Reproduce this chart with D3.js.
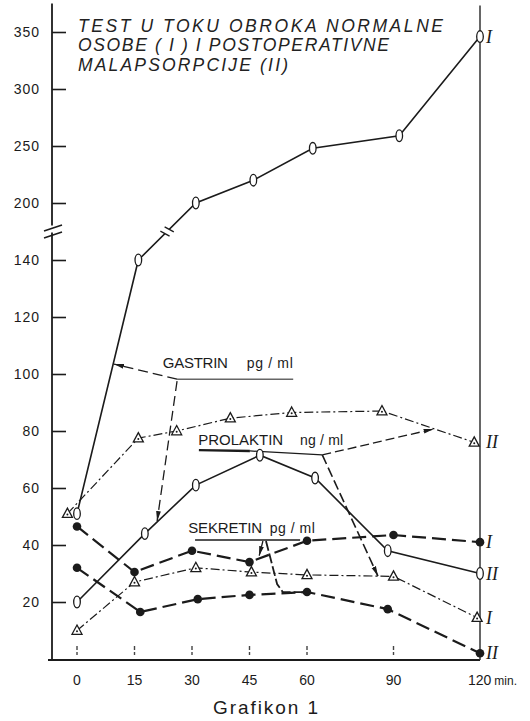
<!DOCTYPE html>
<html>
<head>
<meta charset="utf-8">
<script src="https://cdn.jsdelivr.net/npm/d3@7"></script>
<style>
  body { margin: 0; background: #fff; }
  svg { display: block; }
</style>
</head>
<body>
<svg id="chart" width="530" height="721"></svg>
<script>
// ---- data: sampling times (min) and concentrations ----
const gastrinITimes   = [0, 16, 31, 46, 62, 92, 120];
const gastrinIValues  = [51, 140, 200, 220, 248, 259, 346];

const gastrinIITimes  = [0, 17.7, 31, 47.7, 62.8, 88, 120];
const gastrinIIValues = [20, 44, 61, 71.5, 63.5, 38, 30];

const prolaktinITimes  = [0, 15, 31, 45.5, 60, 90, 119];
const prolaktinIValues = [10, 27, 32, 30.5, 29.5, 29, 14.5];

const prolaktinIITimes  = [-2.5, 16, 26, 40, 56, 86, 118];
const prolaktinIIValues = [51, 77.5, 80, 84.5, 86.5, 87, 76];

const sekretinITimes  = [0, 15, 30, 45, 60, 90, 120];
const sekretinIValues = [46.5, 30.5, 38, 34, 41.5, 43.5, 41];

const sekretinIITimes  = [0, 16.5, 31.5, 45, 60, 88, 120];
const sekretinIIValues = [32, 16.5, 21, 22.5, 23.5, 17.5, 2];

const xTickValues = [0, 15, 30, 45, 60, 90, 120];
const xTickLabels = ["0", "15", "30", "45", "60", "90", "120"];
const yTickValues = [20, 40, 60, 80, 100, 120, 140, 200, 250, 300, 350];

const titleLines = [
  "TEST U TOKU OBROKA NORMALNE",
  "OSOBE ( I ) I POSTOPERATIVNE",
  "MALAPSORPCIJE (II)"
];
const caption = "Grafikon 1";

// ---- scales: time axis is compressed after 60 min, value axis broken above 150 ----
const x = d3.scaleLinear().domain([0, 60, 120]).range([77, 307, 480]);
const y = d3.scaleLinear().domain([0, 150, 175, 375]).range([659, 231.5, 231.5, 3.5]);

const svg = d3.select("#chart");
const ink = "#1b1b1b";
const sans = "'Liberation Sans', Arial, sans-serif";
const serif = "'Liberation Serif', 'Times New Roman', serif";

// arrowhead for the label leaders
svg.append("defs").append("marker")
  .attr("id", "arrow")
  .attr("viewBox", "0 0 10 6")
  .attr("refX", 10).attr("refY", 3)
  .attr("markerWidth", 10).attr("markerHeight", 6)
  .attr("markerUnits", "userSpaceOnUse")
  .attr("orient", "auto")
  .append("path").attr("d", "M0,0.6 L10,3 L0,5.4 Z").attr("fill", ink);

// ---- axes ----
const yAxis = d3.axisLeft(y)
  .tickValues(yTickValues)
  .tickSizeInner(-14).tickSizeOuter(0).tickPadding(12)
  .tickFormat(d3.format("d"));
const gy = svg.append("g").attr("transform", `translate(${x(0) - 25},0)`).call(yAxis);
gy.select(".domain").remove();
gy.selectAll(".tick line").attr("stroke", ink).attr("stroke-width", 1.6);
gy.selectAll(".tick text")
  .attr("fill", ink).attr("font-family", sans).attr("font-size", 14)
  .attr("letter-spacing", 1);

const axisX = x(0) - 25;
// vertical axis with a gap at the scale break
svg.append("line").attr("x1", axisX).attr("x2", axisX)
  .attr("y1", y(0) + 1).attr("y2", y(150) + 1)
  .attr("stroke", ink).attr("stroke-width", 1.8);
svg.append("line").attr("x1", axisX).attr("x2", axisX)
  .attr("y1", y(175) - 6).attr("y2", y(375))
  .attr("stroke", ink).attr("stroke-width", 1.8);
// break marks on the axis
[-3.5, 3.5].forEach(o => {
  svg.append("line")
    .attr("x1", axisX - 8).attr("y1", y(150) + o + 3)
    .attr("x2", axisX + 10).attr("y2", y(150) + o - 3)
    .attr("stroke", ink).attr("stroke-width", 1.6);
});

// horizontal axis and right-hand 120 min line
svg.append("line").attr("x1", axisX - 4).attr("x2", x(120))
  .attr("y1", y(0) + 1).attr("y2", y(0) + 1)
  .attr("stroke", ink).attr("stroke-width", 1.8);
svg.append("line").attr("x1", x(120)).attr("x2", x(120))
  .attr("y1", y(375) + 2).attr("y2", y(0) + 1)
  .attr("stroke", "#333").attr("stroke-width", 1.5);

// short dashed time ticks
svg.append("g").selectAll("line").data(xTickValues.slice(0, 6)).join("line")
  .attr("x1", d => x(d)).attr("x2", d => x(d))
  .attr("y1", y(0) - 13).attr("y2", y(0) - 4)
  .attr("stroke", "#444").attr("stroke-width", 1.4)
  .attr("stroke-dasharray", "4,2");

// time labels
svg.append("g").selectAll("text").data(xTickValues.slice(0, 6)).join("text")
  .attr("x", d => x(d)).attr("y", 685)
  .attr("text-anchor", "middle")
  .attr("font-family", sans).attr("font-size", 14).attr("fill", ink)
  .text((d, i) => xTickLabels[i]);
const last = svg.append("text")
  .attr("x", x(120) - 12).attr("y", 685)
  .attr("font-family", sans).attr("font-size", 14).attr("fill", ink);
last.append("tspan").text(xTickLabels[6]);
last.append("tspan").attr("font-size", 12).attr("dx", 3).text("min.");

// caption
svg.append("text").attr("x", 213).attr("y", 714)
  .attr("font-family", sans).attr("font-size", 19).attr("fill", ink)
  .attr("textLength", 105).attr("lengthAdjust", "spacing")
  .text(caption);

// title block
const titleWidths = [365, 311, 210];
svg.append("g").selectAll("text").data(titleLines).join("text")
  .attr("x", 78).attr("y", (d, i) => 31.5 + i * 19.5)
  .attr("font-family", sans).attr("font-style", "italic")
  .attr("font-size", 17.5).attr("fill", "#222")
  .attr("textLength", (d, i) => titleWidths[i]).attr("lengthAdjust", "spacing")
  .text(d => d);

// ---- series ----
const styles = {
  gastrin:   { width: 1.6, dash: null },
  prolaktin: { width: 1.2, dash: "9,3,2,3" },
  sekretin:  { width: 2.2, dash: "14,6" }
};
const series = [
  { kind: "gastrin",   t: gastrinITimes,    v: gastrinIValues,    tag: "I" },
  { kind: "gastrin",   t: gastrinIITimes,   v: gastrinIIValues,   tag: "II" },
  { kind: "prolaktin", t: prolaktinITimes,  v: prolaktinIValues,  tag: "I" },
  { kind: "prolaktin", t: prolaktinIITimes, v: prolaktinIIValues, tag: "II" },
  { kind: "sekretin",  t: sekretinITimes,   v: sekretinIValues,   tag: "I" },
  { kind: "sekretin",  t: sekretinIITimes,  v: sekretinIIValues,  tag: "II" }
];
series.forEach(s => { s.pts = s.t.map((t, i) => [t, s.v[i]]); });

const line = d3.line().x(d => x(d[0])).y(d => y(d[1]));

svg.append("g").selectAll("path").data(series).join("path")
  .attr("d", s => line(s.pts))
  .attr("fill", "none").attr("stroke", ink)
  .attr("stroke-width", s => styles[s.kind].width)
  .attr("stroke-dasharray", s => styles[s.kind].dash);

// break marks across the gastrin I line between 140 and 200
{
  const p1 = [x(gastrinITimes[1]), y(gastrinIValues[1])];
  const p2 = [x(gastrinITimes[2]), y(gastrinIValues[2])];
  const dx = p2[0] - p1[0], dy = p2[1] - p1[1];
  const len = Math.hypot(dx, dy), ux = dx / len, uy = dy / len;
  const f = 0.5;
  const cx = p1[0] + dx * f, cy = p1[1] + dy * f;
  svg.append("line")
    .attr("x1", cx - ux * 3).attr("y1", cy - uy * 3)
    .attr("x2", cx + ux * 3).attr("y2", cy + uy * 3)
    .attr("stroke", "#fff").attr("stroke-width", 4);
  [-3, 3].forEach(o => {
    const mx = cx + ux * o, my = cy + uy * o;
    svg.append("line")
      .attr("x1", mx - (-uy) * 5 - ux * 1.5).attr("y1", my - ux * 5 - uy * 1.5)
      .attr("x2", mx + (-uy) * 5 + ux * 1.5).attr("y2", my + ux * 5 + uy * 1.5)
      .attr("stroke", ink).attr("stroke-width", 1.3);
  });
}

// ---- label leaders ----
const leaderLine = d3.line().x(d => x(d[0])).y(d => y(d[1]));
function leader(points, opts) {
  svg.append("path")
    .attr("d", leaderLine(points))
    .attr("fill", "none")
    .attr("stroke", opts.color || ink)
    .attr("stroke-width", opts.width || 1.3)
    .attr("stroke-dasharray", opts.dash || null)
    .attr("marker-end", opts.arrow ? "url(#arrow)" : null);
}
function labelText(t, v, str, size, len) {
  svg.append("text").attr("x", x(t)).attr("y", y(v))
    .attr("font-family", sans).attr("font-size", size).attr("fill", ink)
    .attr("textLength", len).attr("lengthAdjust", "spacing")
    .text(str);
}

// GASTRIN
labelText(22.4, 102.1, "GASTRIN", 15, 65);
labelText(44.3, 102.1, "pg / ml", 14, 46);
leader([[26.1, 98.2], [56.4, 98.2]], { color: "#666", width: 1.5 });
leader([[26.1, 98.2], [21.7, 99.6], [9.65, 103.5]], { dash: "10,5", arrow: true });
leader([[26.1, 97.5], [20.9, 48.4]], { dash: "10,5", arrow: true });

// PROLAKTIN
labelText(31.6, 75.1, "PROLAKTIN", 15, 85);
labelText(58.2, 75.1, "ng / ml", 14, 43);
leader([[31.8, 73.3], [45.1, 73.0]], { width: 2.4 });
leader([[45.1, 73.0], [65.3, 71.6]], { width: 1.2 });
leader([[65.3, 71.6], [103.9, 80.7]], { dash: "9,4", arrow: true });
leader([[65.3, 71.6], [84.6, 29.1]], { dash: "10,4", width: 1.6, arrow: true });

// SEKRETIN
labelText(29, 44.2, "SEKRETIN", 15, 74);
labelText(50.3, 44.2, "pg / ml", 14, 45);
leader([[30.8, 41.75], [58.2, 41.75]], { width: 1.3 });
leader([[48.5, 41.4], [47.5, 36.1]], { dash: "6,3", arrow: true });
leader([[49.3, 41.4], [52.2, 26.3], [53.7, 23.5], [59.7, 23.5]], { dash: "10,3", width: 1.8 });

// ---- point markers ----
const mk = svg.append("g");
series.forEach(s => {
  const g = mk.append("g").selectAll("g").data(s.pts).join("g")
    .attr("transform", d => `translate(${x(d[0])},${y(d[1])})`);
  if (s.kind === "gastrin") {
    g.append("ellipse").attr("rx", 3.3).attr("ry", 5.8)
      .attr("fill", "#fff").attr("stroke", ink).attr("stroke-width", 1.3);
  } else if (s.kind === "prolaktin") {
    g.append("path").attr("d", "M0,-5.5 L5,3.8 L-5,3.8 Z")
      .attr("fill", "#fff").attr("stroke", ink).attr("stroke-width", 1.3);
    g.append("circle").attr("cy", 0.8).attr("r", 1).attr("fill", ink);
  } else {
    g.append("circle").attr("r", 4.3).attr("fill", ink);
  }
});

// series tags at the 120 min line
svg.append("g").selectAll("text").data(series).join("text")
  .attr("x", x(120) + 6)
  .attr("y", s => y(s.v[s.v.length - 1]) + 6)
  .attr("font-family", serif).attr("font-style", "italic")
  .attr("font-size", 18).attr("fill", ink)
  .text(s => s.tag);
</script>
</body>
</html>
